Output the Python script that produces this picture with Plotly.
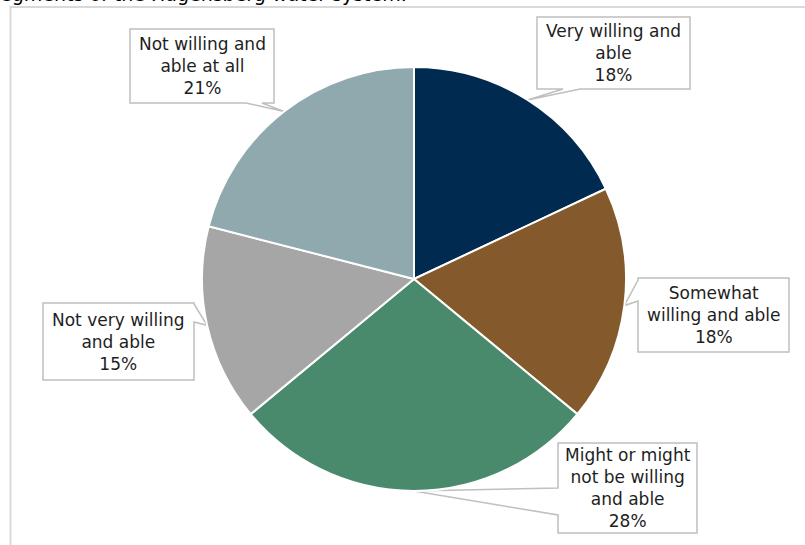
import math
import plotly.graph_objects as go

# ---- data ----
categories = ["Very willing and able", "Somewhat willing and able",
              "Might or might not be willing and able", "Not very willing and able",
              "Not willing and able at all"]
values = [18, 18, 28, 15, 21]
label_texts = ["Very willing and<br>able<br>18%",
               "Somewhat<br>willing and able<br>18%",
               "Might or might<br>not be willing<br>and able<br>28%",
               "Not very willing<br>and able<br>15%",
               "Not willing and<br>able at all<br>21%"]
colors = ["#012a50", "#84592c", "#4a8a6c", "#a6a6a6", "#8fa9ae"]
title_text = "egments of the Hagensberg water system."

# ---- layout geometry (pixels) ----
W, H = 805, 545
CX, CY, R = 414, 279, 212

# callout boxes: (x0, y0, x1, y1, side, base0, base1)
boxes = [
    (537, 17, 690, 89, "bottom", 563, 580),
    (638, 278, 789, 352, "left", 280, 301),
    (558, 443, 697, 533, "left", 488, 515),
    (43, 303, 194, 380, "right", 304, 322),
    (130, 29, 274, 103, "bottom", 246, 262),
]


def px(x, y):
    return x / W, 1 - y / H


def path_str(pts):
    s = ""
    for i, (x, y) in enumerate(pts):
        u, v = px(x, y)
        s += ("M" if i == 0 else "L") + f"{u:.5f},{v:.5f} "
    return s + "Z"


total = sum(values)
cum = 0
shapes = []
annotations = []
for v, txt, (x0, y0, x1, y1, side, b0, b1) in zip(values, label_texts, boxes):
    mid = (cum + v / 2) / total * 2 * math.pi
    cum += v
    tx = CX + R * math.sin(mid)
    ty = CY - R * math.cos(mid)
    tip = (tx, ty)
    pts = [(x0, y0), (x1, y0)]
    if side == "right":
        pts += [(x1, b0), tip, (x1, b1)]
    pts += [(x1, y1)]
    if side == "bottom":
        pts += [(b1, y1), tip, (b0, y1)]
    pts += [(x0, y1)]
    if side == "left":
        pts += [(x0, b1), tip, (x0, b0)]
    shapes.append(dict(type="path", path=path_str(pts), xref="paper", yref="paper",
                       fillcolor="white", line=dict(color="#bfbfbf", width=1.5),
                       layer="below"))
    cx, cy = px((x0 + x1) / 2, (y0 + y1) / 2)
    annotations.append(dict(x=cx, y=cy, xref="paper", yref="paper", text=txt,
                            showarrow=False, xanchor="center", yanchor="middle",
                            font=dict(family="DejaVu Sans", size=17, color="#1e1e1e")))

# outer chart border
bx0, by0 = px(10.5, 7)
bx1, by1 = px(830, 570)
shapes.insert(0, dict(type="rect", x0=bx0, y0=by1, x1=bx1, y1=by0, xref="paper", yref="paper",
                      line=dict(color="#d9d9d9", width=2), fillcolor="rgba(0,0,0,0)", layer="below"))

# clipped title at top
annotations.append(dict(x=px(-2, 0)[0], y=px(0, 7)[1], xref="paper", yref="paper",
                        text=title_text, showarrow=False, xanchor="left", yanchor="bottom",
                        font=dict(family="DejaVu Sans", size=19, color="#000000")))

dx0, dy0 = px(CX - R, CY + R)
dx1, dy1 = px(CX + R, CY - R)

fig = go.Figure(go.Pie(
    labels=categories, values=values, sort=False, direction="clockwise", rotation=0,
    marker=dict(colors=colors, line=dict(color="white", width=2)),
    textinfo="none", hoverinfo="label+percent", showlegend=False,
    domain=dict(x=[dx0, dx1], y=[dy0, dy1]),
))
fig.update_layout(width=W, height=H, margin=dict(l=0, r=0, t=0, b=0),
                  paper_bgcolor="white", plot_bgcolor="white",
                  shapes=shapes, annotations=annotations)
fig.write_html("out.html")
